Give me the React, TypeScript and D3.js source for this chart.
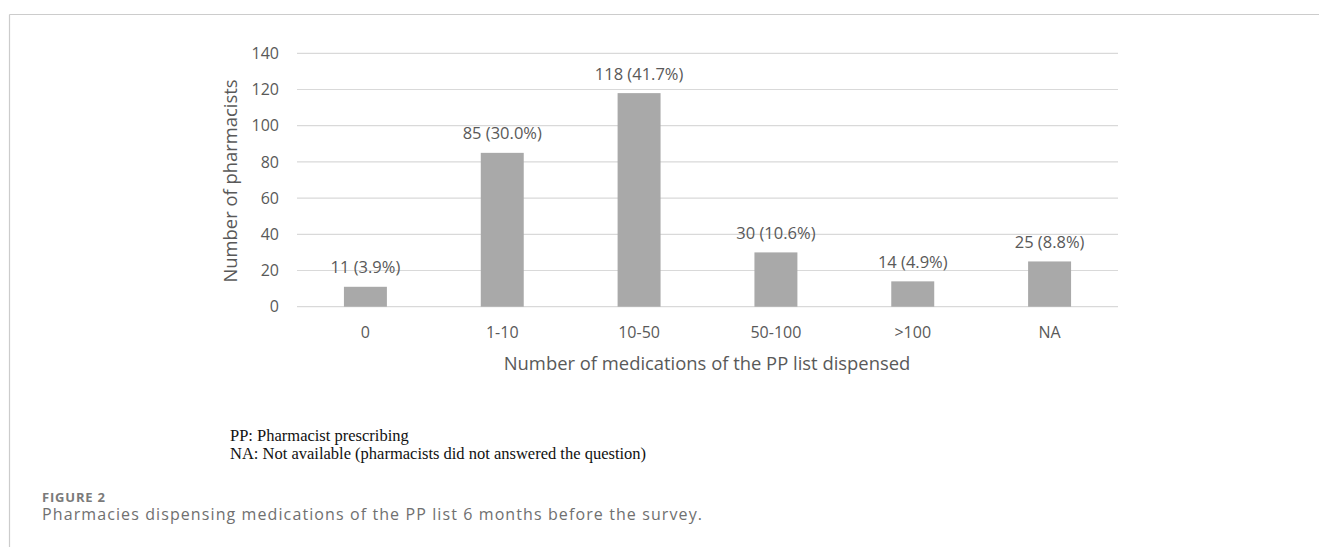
import React, { useEffect, useRef } from "react";
import * as d3 from "d3";

const categories = ["0", "1-10", "10-50", "50-100", ">100", "NA"];
const counts = [11, 85, 118, 30, 14, 25];
const percents = ["3.9%", "30.0%", "41.7%", "10.6%", "4.9%", "8.8%"];
const yTicks = [0, 20, 40, 60, 80, 100, 120, 140];
const yTitle = "Number of pharmacists";
const xTitle = "Number of medications of the PP list dispensed";
const footnotes = [
  "PP: Pharmacist prescribing",
  "NA: Not available (pharmacists did not answered the question)",
];
const figureLabel = "FIGURE 2";
const caption = "Pharmacies dispensing medications of the PP list 6 months before the survey.";

const W = 1319;
const H = 547;

export default function App() {
  const ref = useRef<SVGSVGElement | null>(null);

  useEffect(() => {
    document.body.style.margin = "0";
    const svg = d3.select(ref.current);
    svg.selectAll("*").remove();

    const left = 297, right = 1118, top = 53.3, bottom = 306.7;
    const x = d3.scaleBand<string>().domain(categories).range([left, right]).paddingInner(0.686).paddingOuter(0.343);
    const y = d3.scaleLinear().domain([0, 140]).range([bottom, top]);
    const font = "'Open Sans', sans-serif";
    const textColor = "#595959";

    // frame
    svg.append("line").attr("x1", 9.5).attr("x2", W).attr("y1", 14.5).attr("y2", 14.5).attr("stroke", "#cccccc").attr("stroke-width", 1.2);
    svg.append("line").attr("x1", 9.5).attr("x2", 9.5).attr("y1", 14.5).attr("y2", H).attr("stroke", "#cccccc").attr("stroke-width", 1.2);

    // gridlines
    svg.append("g").selectAll("line").data(yTicks).join("line")
      .attr("x1", left).attr("x2", right)
      .attr("y1", (d) => y(d)).attr("y2", (d) => y(d))
      .attr("stroke", "#d9d9d9").attr("stroke-width", 1.2);

    // y tick labels
    svg.append("g").selectAll("text").data(yTicks).join("text")
      .attr("x", 279).attr("y", (d) => y(d)).attr("dy", "0.36em")
      .attr("text-anchor", "end").attr("font-family", font).attr("font-size", 16)
      .attr("fill", textColor).text((d) => String(d));

    // y title
    svg.append("text")
      .attr("transform", `translate(237,${(top + bottom) / 2 + 1}) rotate(-90)`)
      .attr("text-anchor", "middle").attr("font-family", font).attr("font-size", 18.4)
      .attr("fill", textColor).text(yTitle);

    // bars
    svg.append("g").selectAll("rect").data(counts).join("rect")
      .attr("x", (_, i) => x(categories[i])!)
      .attr("width", x.bandwidth())
      .attr("y", (d) => y(d))
      .attr("height", (d) => y(0) - y(d))
      .attr("fill", "#a9a9a9");

    // bar labels
    svg.append("g").selectAll("text").data(counts).join("text")
      .attr("x", (_, i) => x(categories[i])! + x.bandwidth() / 2)
      .attr("y", (d) => y(d) - 13.5)
      .attr("text-anchor", "middle").attr("font-family", font).attr("font-size", 16.5)
      .attr("fill", textColor).text((d, i) => `${d} (${percents[i]})`);

    // x labels
    svg.append("g").selectAll("text").data(categories).join("text")
      .attr("x", (d) => x(d)! + x.bandwidth() / 2)
      .attr("y", 338)
      .attr("text-anchor", "middle").attr("font-family", font).attr("font-size", 16)
      .attr("fill", textColor).text((d) => d);

    // x title
    svg.append("text")
      .attr("x", (left + right) / 2 - 0.5).attr("y", 369.5)
      .attr("text-anchor", "middle").attr("font-family", font).attr("font-size", 18.4)
      .attr("fill", textColor).text(xTitle);

    // footnotes
    svg.append("g").selectAll("text").data(footnotes).join("text")
      .attr("x", 230).attr("y", (_, i) => 440.5 + i * 18.5)
      .attr("font-family", "'Liberation Serif', 'Times New Roman', serif").attr("font-size", 16.5)
      .attr("fill", "#111").text((d) => d);

    // figure label & caption
    svg.append("text").attr("x", 42).attr("y", 501.5)
      .attr("font-family", font).attr("font-size", 13).attr("font-weight", 700)
      .attr("letter-spacing", 0.8)
      .attr("fill", "#7a7a7a").text(figureLabel);
    svg.append("text").attr("x", 42).attr("y", 520)
      .attr("font-family", font).attr("font-size", 16)
      .attr("letter-spacing", 1.1)
      .attr("fill", "#707070").text(caption);
  }, []);

  return <svg ref={ref} width={W} height={H} style={{ display: "block", background: "#fff" }} />;
}
